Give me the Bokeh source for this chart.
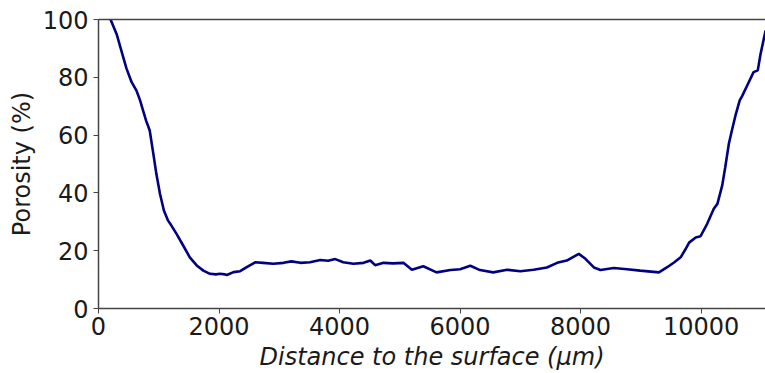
from bokeh.plotting import figure
from bokeh.models import FixedTicker, LinearAxis, Range1d
from bokeh.embed import file_html
from bokeh.resources import INLINE

distance_um = [200, 300, 410, 465, 550, 630, 690, 740, 790, 850, 910, 960, 1020, 1085, 1155,
               1210, 1295, 1405, 1515, 1630, 1740, 1850, 1950, 2015, 2100, 2130, 2240, 2350,
               2460, 2600, 2730, 2900, 3070, 3200, 3350, 3510, 3680, 3810, 3930, 4060, 4230,
               4400, 4510, 4590, 4730, 4890, 5060, 5200, 5390, 5610, 5840, 6000, 6170, 6330,
               6550, 6780, 7000, 7220, 7440, 7610, 7770, 7970, 8080, 8220, 8330, 8550, 8770,
               8990, 9300, 9430, 9550, 9660, 9740, 9800, 9910, 9990, 10100, 10210, 10270,
               10350, 10400, 10460, 10515, 10570, 10640, 10680, 10790, 10870, 10940, 10985, 11070]
porosity_pct = [100, 95, 87, 83, 78.3, 75.4, 72, 68.5, 65, 61.6, 53.5, 46.6, 39.7, 33.9, 30.4,
                28.7, 25.8, 21.8, 17.7, 14.9, 13.1, 12, 11.8, 12, 11.8, 11.6, 12.6, 12.9,
                14.3, 16, 15.8, 15.5, 15.8, 16.3, 15.8, 16, 16.8, 16.5, 17.1, 16, 15.5,
                15.8, 16.6, 15, 15.8, 15.6, 15.8, 13.4, 14.6, 12.5, 13.3, 13.6, 14.8, 13.3,
                12.5, 13.4, 12.9, 13.4, 14.2, 15.8, 16.6, 18.9, 17.2, 14.2, 13.3, 14, 13.6,
                13.1, 12.5, 14.2, 15.9, 17.7, 20.5, 22.8, 24.6, 25, 29.3, 34.5, 36.2,
                42.6, 48.9, 57, 62, 66.8, 72, 73.5, 78.3, 81.8, 82.4, 88, 96.2]
x_ticks = [0, 2000, 4000, 6000, 8000, 10000]
y_ticks = [0, 20, 40, 60, 80, 100]

FONT = "DejaVu Sans"
SPINE = "#444444"

p = figure(width=765, height=373, output_backend="svg", toolbar_location=None,
           x_range=Range1d(0, 11068), y_range=Range1d(0, 100),
           min_border_left=98, min_border_right=0, min_border_top=19, min_border_bottom=65)
p.outline_line_color = None
p.grid.grid_line_color = None
p.background_fill_color = "white"

p.line(distance_um, porosity_pct, line_color="navy", line_width=2.6)

for ax, ticks in ((p.xaxis[0], x_ticks), (p.yaxis[0], y_ticks)):
    ax.ticker = FixedTicker(ticks=ticks)
    ax.minor_tick_line_color = None
    ax.major_tick_in = 0
    ax.major_tick_out = 5
    ax.major_tick_line_color = SPINE
    ax.axis_line_color = SPINE
    ax.axis_line_width = 1.5
    ax.major_label_text_font = FONT
    ax.major_label_text_font_size = "24px"
    ax.major_label_text_color = "#1a1a1a"
    ax.axis_label_text_font = FONT
    ax.axis_label_text_font_size = "24px"
    ax.axis_label_text_color = "#1a1a1a"

p.xaxis.major_label_standoff = 3
p.xaxis.axis_label = "Distance to the surface (μm)"
p.xaxis.axis_label_text_font_style = "italic"
p.xaxis.axis_label_standoff = 5
p.yaxis.major_label_standoff = 5
p.yaxis.axis_label = "Porosity (%)"
p.yaxis.axis_label_text_font_style = "normal"
p.yaxis.axis_label_standoff = 4

top = LinearAxis(ticker=FixedTicker(ticks=[]), major_tick_line_color=None,
                 minor_tick_line_color=None, major_label_text_font_size="0px",
                 axis_line_color=SPINE, axis_line_width=1.5)
p.add_layout(top, "above")

open("out.html", "w").write(file_html(p, INLINE))
